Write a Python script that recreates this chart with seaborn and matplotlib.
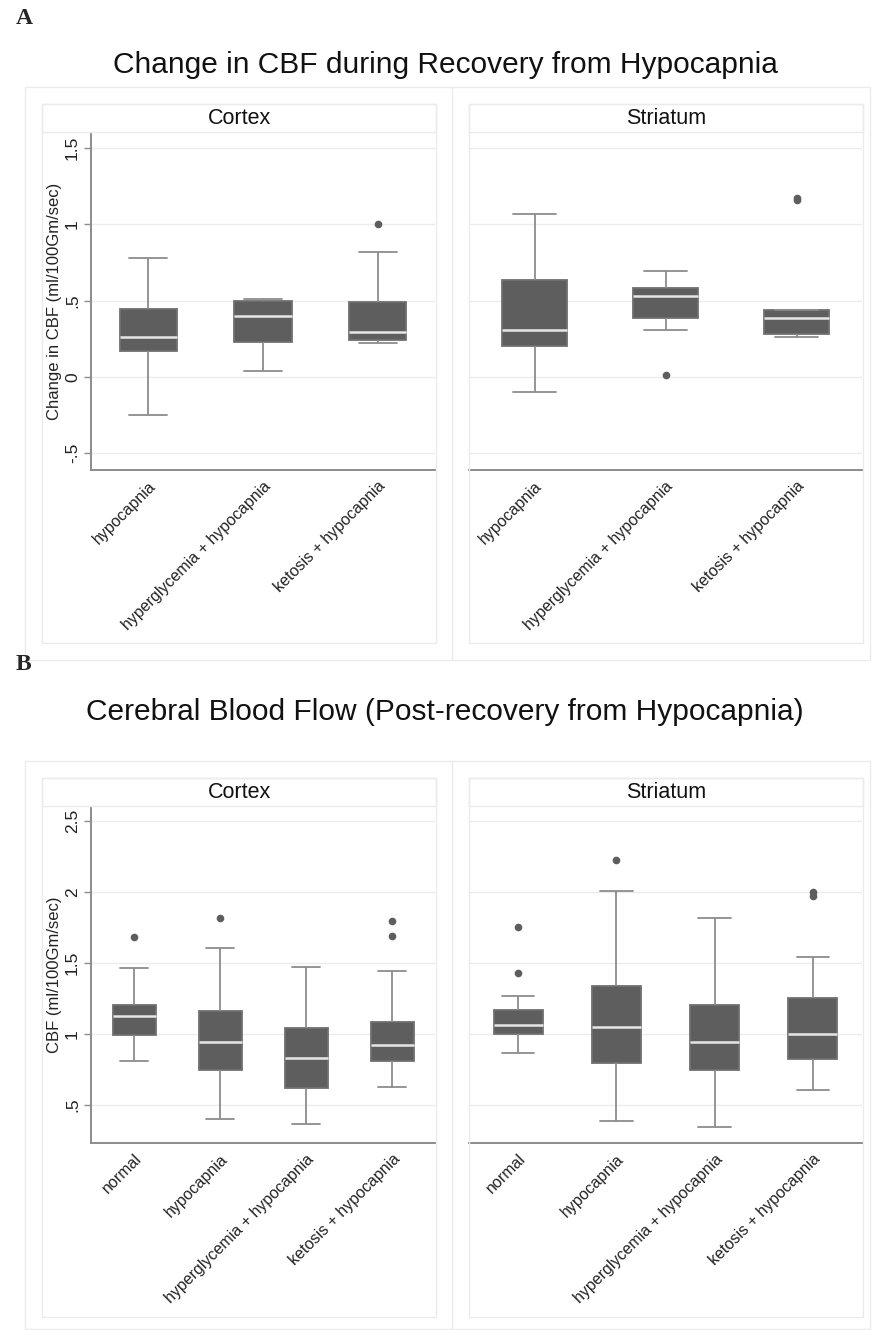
import pandas as pd
import seaborn as sns
import matplotlib.pyplot as plt
from matplotlib.patches import Rectangle
from matplotlib.lines import Line2D

sns.set_style("white")
plt.rcParams['font.family'] = ['Liberation Sans', 'DejaVu Sans']

# -------------------------------
# data (box summaries)
# -------------------------------
A_groups = ["hypocapnia", "hyperglycemia + hypocapnia", "ketosis + hypocapnia"]

A_cortex_lo = [-0.25, 0.04, 0.22]
A_cortex_q1 = [0.17, 0.23, 0.245]
A_cortex_med = [0.265, 0.40, 0.295]
A_cortex_q3 = [0.445, 0.495, 0.49]
A_cortex_hi = [0.78, 0.51, 0.82]
A_cortex_out = [[], [], [1.0]]

A_striatum_lo = [-0.10, 0.31, 0.26]
A_striatum_q1 = [0.20, 0.39, 0.285]
A_striatum_med = [0.31, 0.53, 0.39]
A_striatum_q3 = [0.635, 0.585, 0.44]
A_striatum_hi = [1.07, 0.695, 0.44]
A_striatum_out = [[], [0.01], [1.16, 1.175]]

B_groups = ["normal", "hypocapnia", "hyperglycemia + hypocapnia", "ketosis + hypocapnia"]

B_cortex_lo = [0.81, 0.40, 0.365, 0.625]
B_cortex_q1 = [0.99, 0.745, 0.615, 0.805]
B_cortex_med = [1.125, 0.94, 0.83, 0.92]
B_cortex_q3 = [1.20, 1.16, 1.04, 1.085]
B_cortex_hi = [1.465, 1.605, 1.47, 1.44]
B_cortex_out = [[1.68], [1.82], [], [1.69, 1.795]]

B_striatum_lo = [0.865, 0.385, 0.345, 0.605]
B_striatum_q1 = [1.0, 0.795, 0.745, 0.825]
B_striatum_med = [1.065, 1.05, 0.94, 1.0]
B_striatum_q3 = [1.17, 1.34, 1.20, 1.25]
B_striatum_hi = [1.27, 2.01, 1.82, 1.545]
B_striatum_out = [[1.43, 1.755], [2.225], [], [1.975, 2.0]]

A_ticks = [-0.5, 0, 0.5, 1, 1.5]
A_ticklabels = ["-.5", "0", ".5", "1", "1.5"]
B_ticks = [0.5, 1, 1.5, 2, 2.5]
B_ticklabels = [".5", "1", "1.5", "2", "2.5"]

W, H = 872, 1330
BOX = '#5e5e5e'
LINE = '#8c8c8c'
FRAME = '#ebebeb'

fig = plt.figure(figsize=(W / 100, H / 100), dpi=100)


def rect(x0, y0, x1, y1):
    return [x0 / W, 1 - y1 / H, (x1 - x0) / W, (y1 - y0) / H]


def frame(x0, y0, x1, y1):
    l, b, w, h = rect(x0, y0, x1, y1)
    fig.add_artist(Rectangle((l, b), w, h, transform=fig.transFigure,
                             fill=False, edgecolor=FRAME, linewidth=1))


def box_panel(ax, groups, lo, q1, med, q3, hi, out, ylim, ticks, ticklabels, show_y, ylabel):
    rows = []
    for i, g in enumerate(groups):
        for v in (lo[i], q1[i], med[i], q3[i], hi[i]):
            rows.append((g, v))
    df = pd.DataFrame(rows, columns=['group', 'value'])
    odf = pd.DataFrame([(g, v) for g, vals in zip(groups, out) for v in vals],
                       columns=['group', 'value'])
    sns.boxplot(data=df, x='group', y='value', order=groups, whis=(0, 100),
                width=0.5, color=BOX, linecolor=LINE, linewidth=1.3,
                saturation=1, showfliers=False, capwidths=0.33,
                medianprops=dict(color='#e6e6e6', linewidth=1.8),
                boxprops=dict(edgecolor='#707070'), ax=ax)
    sns.stripplot(data=odf, x='group', y='value', order=groups, jitter=False,
                  color=BOX, size=5.5, linewidth=0, ax=ax)
    ax.set_xlim(-0.5, len(groups) - 0.5)
    ax.set_ylim(*ylim)
    ax.set_yticks(ticks)
    ax.yaxis.grid(True, color='#ececec', linewidth=1)
    ax.set_axisbelow(True)
    for s in ['top', 'right']:
        ax.spines[s].set_visible(False)
    ax.spines['bottom'].set_color(LINE)
    ax.spines['bottom'].set_linewidth(1.4)
    ax.set_xticks(range(len(groups)))
    ax.set_xticklabels(groups, rotation=45, ha='right', rotation_mode='anchor',
                       fontsize=11.5, color='#222222')
    ax.tick_params(axis='x', length=0, pad=6)
    ax.set_xlabel('')
    if show_y:
        ax.spines['left'].set_color(LINE)
        ax.spines['left'].set_linewidth(1.4)
        ax.set_yticklabels(ticklabels, rotation=90, va='center', fontsize=12.5,
                           color='#222222')
        ax.tick_params(axis='y', left=True, length=5, width=1, color=LINE, pad=3)
        ax.set_ylabel(ylabel, fontsize=12, color='#222222', labelpad=2)
    else:
        ax.spines['left'].set_visible(False)
        ax.set_yticklabels([])
        ax.tick_params(axis='y', length=0)
        ax.set_ylabel('')


def block(top, groups, series, ylim, ticks, ticklabels, ylabel, title, letter,
          title_y, letter_y, inner_bot, outer_bot, ax_bot):
    fig.text(16 / W, 1 - letter_y / H, letter, fontsize=17, fontweight='bold',
             family=['Liberation Serif', 'DejaVu Serif'], ha='left', va='center')
    fig.text(445 / W, 1 - title_y / H, title, fontsize=21.5, ha='center',
             va='center', color='#111111')
    # outer frame, divider and inner subpanel frames
    frame(25, top, 870, outer_bot)
    fig.add_artist(Line2D([452 / W, 452 / W], [1 - top / H, 1 - outer_bot / H],
                          transform=fig.transFigure, color=FRAME, linewidth=1))
    for (x0, x1), name, s, show_y in zip([(42, 436), (469, 863)],
                                         ["Cortex", "Striatum"], series,
                                         [True, False]):
        frame(x0, top + 17, x1, inner_bot)
        frame(x0, top + 17, x1, top + 45)
        fig.text((x0 + x1) / 2 / W, 1 - (top + 31) / H, name, fontsize=15.5,
                 ha='center', va='center', color='#111111')
        ax_x0 = 91 if show_y else x0
        ax = fig.add_axes(rect(ax_x0, top + 46, x1 - 1, ax_bot))
        box_panel(ax, groups, *s, ylim, ticks, ticklabels, show_y, ylabel)


block(87, A_groups,
      [(A_cortex_lo, A_cortex_q1, A_cortex_med, A_cortex_q3, A_cortex_hi, A_cortex_out),
       (A_striatum_lo, A_striatum_q1, A_striatum_med, A_striatum_q3, A_striatum_hi, A_striatum_out)],
      (-0.61, 1.6), A_ticks, A_ticklabels, "Change in CBF (ml/100Gm/sec)",
      "Change in CBF during Recovery from Hypocapnia", "A",
      65, 18, 643, 660, 470)

block(761, B_groups,
      [(B_cortex_lo, B_cortex_q1, B_cortex_med, B_cortex_q3, B_cortex_hi, B_cortex_out),
       (B_striatum_lo, B_striatum_q1, B_striatum_med, B_striatum_q3, B_striatum_hi, B_striatum_out)],
      (0.23, 2.6), B_ticks, B_ticklabels, "CBF (ml/100Gm/sec)",
      "Cerebral Blood Flow (Post-recovery from Hypocapnia)", "B",
      712, 665, 1317, 1329, 1143)

fig.savefig("out.png", dpi=100)
